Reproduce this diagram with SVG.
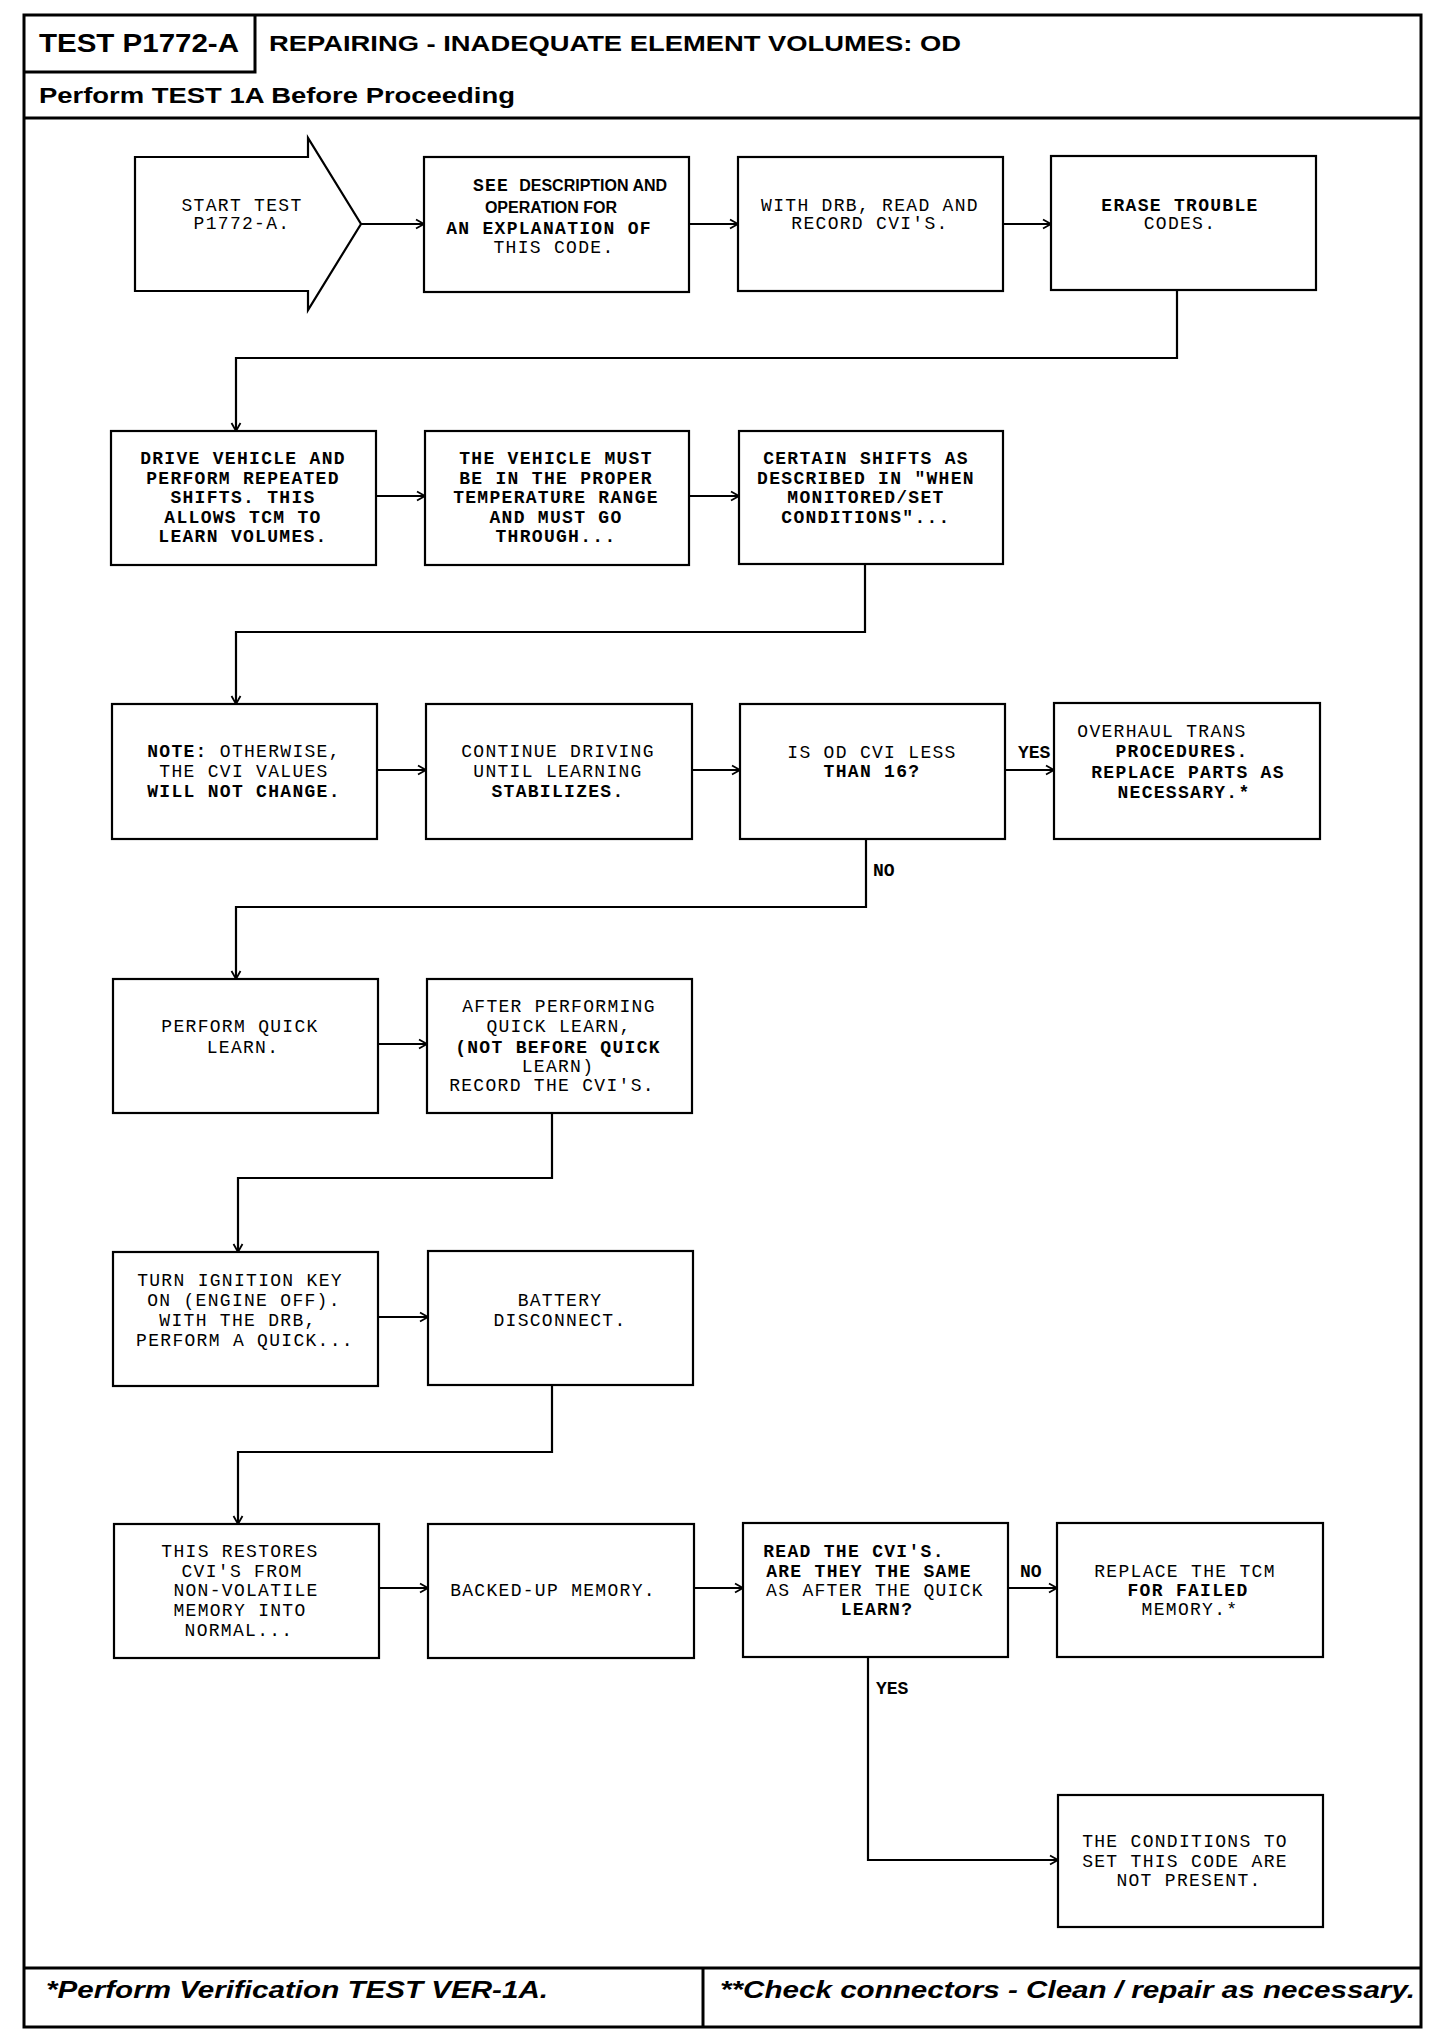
<svg xmlns="http://www.w3.org/2000/svg" width="1456" height="2032" viewBox="0 0 1456 2032">
<style>
.frame{fill:none;stroke:#000;stroke-width:3}
.box{fill:#fff;stroke:#000;stroke-width:2.2}
.t{font-family:"Liberation Mono","Courier New",monospace;font-size:18px;letter-spacing:1.3px;text-anchor:middle;fill:#000}
.b{font-weight:bold}
.lbl{font-family:"Liberation Mono","Courier New",monospace;font-size:18px;font-weight:bold;fill:#000}
.h{font-family:"Liberation Sans",Arial,sans-serif;font-weight:bold;fill:#000}
.hi{font-family:"Liberation Sans",Arial,sans-serif;font-weight:bold;font-style:italic;fill:#000}
.sb{font-family:"Liberation Sans",Arial,sans-serif;font-weight:bold;font-size:16px;letter-spacing:0}
#connectors path{fill:none;stroke:#000;stroke-width:2.2}
</style>
<defs>
<marker id="ah" markerWidth="12" markerHeight="12" refX="10" refY="6" orient="auto" markerUnits="userSpaceOnUse">
<path d="M2,1.5 L10,6 L2,10.5" fill="none" stroke="#000" stroke-width="1.8"/>
</marker>
</defs>
<rect x="0" y="0" width="1456" height="2032" fill="#fff"/>

<g id="frame">
<rect class="frame" x="24" y="15" width="1397" height="2012"/>
<path class="frame" d="M255,15 V72 H24"/>
<line class="frame" x1="24" y1="118" x2="1421" y2="118" stroke-width="4"/>
<line class="frame" x1="24" y1="1968" x2="1421" y2="1968"/>
<line class="frame" x1="703" y1="1968" x2="703" y2="2027"/>
<text class="h" x="39" y="52" font-size="26" textLength="200" lengthAdjust="spacingAndGlyphs">TEST P1772-A</text>
<text class="h" x="269" y="51" font-size="22" textLength="692" lengthAdjust="spacingAndGlyphs">REPAIRING - INADEQUATE ELEMENT VOLUMES: OD</text>
<text class="h" x="39" y="103" font-size="22" textLength="476" lengthAdjust="spacingAndGlyphs">Perform TEST 1A Before Proceeding</text>
<text class="hi" x="46" y="1998" font-size="24" textLength="502" lengthAdjust="spacingAndGlyphs">*Perform Verification TEST VER-1A.</text>
<text class="hi" x="720" y="1998" font-size="24" textLength="695" lengthAdjust="spacingAndGlyphs">**Check connectors - Clean / repair as necessary.</text>
</g>

<g id="connectors">
<path d="M361,224 H424" marker-end="url(#ah)"/>
<path d="M689,224 H738" marker-end="url(#ah)"/>
<path d="M1003,224 H1051" marker-end="url(#ah)"/>
<path d="M1177,290 V358 H236 V431" marker-end="url(#ah)"/>
<path d="M376,496 H425" marker-end="url(#ah)"/>
<path d="M689,496 H739" marker-end="url(#ah)"/>
<path d="M865,564 V632 H236 V704" marker-end="url(#ah)"/>
<path d="M377,770 H426" marker-end="url(#ah)"/>
<path d="M692,770 H740" marker-end="url(#ah)"/>
<path d="M1005,770 H1054" marker-end="url(#ah)"/>
<path d="M866,839 V907 H236 V979" marker-end="url(#ah)"/>
<path d="M378,1044 H427" marker-end="url(#ah)"/>
<path d="M552,1113 V1178 H238 V1252" marker-end="url(#ah)"/>
<path d="M378,1317 H428" marker-end="url(#ah)"/>
<path d="M552,1385 V1452 H238 V1524" marker-end="url(#ah)"/>
<path d="M379,1588 H428" marker-end="url(#ah)"/>
<path d="M694,1588 H743" marker-end="url(#ah)"/>
<path d="M1008,1588 H1057" marker-end="url(#ah)"/>
<path d="M868,1657 V1860 H1058" marker-end="url(#ah)"/>
<text class="lbl" x="1018" y="758">YES</text>
<text class="lbl" x="873" y="876">NO</text>
<text class="lbl" x="1020" y="1577">NO</text>
<text class="lbl" x="876" y="1694">YES</text>
</g>

<g id="n1">
<polygon class="box" points="135,157 308,157 308,138 361,224 308,310 308,291 135,291"/>
<text class="t" x="242" y="211">START TEST</text>
<text class="t" x="242" y="229">P1772-A.</text>
</g>
<g id="n2">
<rect class="box" x="424" y="157" width="265" height="135"/>
<text class="t" x="570" y="191"><tspan class="b">SEE</tspan><tspan class="sb" dx="10">DESCRIPTION AND</tspan></text>
<text class="t sb" x="551" y="213">OPERATION  FOR</text>
<text class="t b" x="549" y="234">AN EXPLANATION OF</text>
<text class="t" x="554" y="253">THIS CODE.</text>
</g>
<g id="n3">
<rect class="box" x="738" y="157" width="265" height="134"/>
<text class="t" x="870" y="211">WITH DRB, READ AND</text>
<text class="t" x="870" y="229">RECORD CVI'S.</text>
</g>
<g id="n4">
<rect class="box" x="1051" y="156" width="265" height="134"/>
<text class="t b" x="1180" y="211">ERASE TROUBLE</text>
<text class="t" x="1180" y="229">CODES.</text>
</g>

<g id="n5">
<rect class="box" x="111" y="431" width="265" height="134"/>
<text class="t b" x="243" y="464">DRIVE VEHICLE AND</text>
<text class="t b" x="243" y="484">PERFORM REPEATED</text>
<text class="t b" x="243" y="503">SHIFTS. THIS</text>
<text class="t b" x="243" y="523">ALLOWS TCM TO</text>
<text class="t b" x="243" y="542">LEARN VOLUMES.</text>
</g>
<g id="n6">
<rect class="box" x="425" y="431" width="264" height="134"/>
<text class="t b" x="556" y="464">THE VEHICLE MUST</text>
<text class="t b" x="556" y="484">BE IN THE PROPER</text>
<text class="t b" x="556" y="503">TEMPERATURE RANGE</text>
<text class="t b" x="556" y="523">AND MUST GO</text>
<text class="t b" x="556" y="542">THROUGH...</text>
</g>
<g id="n7">
<rect class="box" x="739" y="431" width="264" height="133"/>
<text class="t b" x="866" y="464">CERTAIN SHIFTS AS</text>
<text class="t b" x="866" y="484">DESCRIBED IN "WHEN</text>
<text class="t b" x="866" y="503">MONITORED/SET</text>
<text class="t b" x="866" y="523">CONDITIONS"...</text>
</g>

<g id="n8">
<rect class="box" x="112" y="704" width="265" height="135"/>
<text class="t" x="244" y="757"><tspan class="b">NOTE:</tspan> OTHERWISE,</text>
<text class="t" x="244" y="777">THE CVI VALUES</text>
<text class="t b" x="244" y="797">WILL NOT CHANGE.</text>
</g>
<g id="n9">
<rect class="box" x="426" y="704" width="266" height="135"/>
<text class="t" x="558" y="757">CONTINUE DRIVING</text>
<text class="t" x="558" y="777">UNTIL LEARNING</text>
<text class="t b" x="558" y="797">STABILIZES.</text>
</g>
<g id="n10">
<rect class="box" x="740" y="704" width="265" height="135"/>
<text class="t" x="872" y="758">IS OD CVI LESS</text>
<text class="t b" x="872" y="777">THAN 16?</text>
</g>
<g id="n11">
<rect class="box" x="1054" y="703" width="266" height="136"/>
<text class="t" x="1162" y="737">OVERHAUL TRANS</text>
<text class="t b" x="1182" y="757">PROCEDURES.</text>
<text class="t b" x="1188" y="778">REPLACE PARTS AS</text>
<text class="t b" x="1184" y="798">NECESSARY.*</text>
</g>

<g id="n12">
<rect class="box" x="113" y="979" width="265" height="134"/>
<text class="t" x="240" y="1032">PERFORM QUICK</text>
<text class="t" x="243" y="1053">LEARN.</text>
</g>
<g id="n13">
<rect class="box" x="427" y="979" width="265" height="134"/>
<text class="t" x="559" y="1012">AFTER PERFORMING</text>
<text class="t" x="559" y="1032">QUICK LEARN,</text>
<text class="t b" x="558" y="1053">(NOT BEFORE QUICK</text>
<text class="t" x="558" y="1072">LEARN)</text>
<text class="t" x="552" y="1091">RECORD THE CVI'S.</text>
</g>

<g id="n14">
<rect class="box" x="113" y="1252" width="265" height="134"/>
<text class="t" x="240" y="1286">TURN IGNITION KEY</text>
<text class="t" x="244" y="1306">ON (ENGINE OFF).</text>
<text class="t" x="238" y="1326">WITH THE DRB,</text>
<text class="t" x="245" y="1346">PERFORM A QUICK...</text>
</g>
<g id="n15">
<rect class="box" x="428" y="1251" width="265" height="134"/>
<text class="t" x="560" y="1306">BATTERY</text>
<text class="t" x="560" y="1326">DISCONNECT.</text>
</g>

<g id="n16">
<rect class="box" x="114" y="1524" width="265" height="134"/>
<text class="t" x="240" y="1557">THIS RESTORES</text>
<text class="t" x="242" y="1577">CVI'S FROM</text>
<text class="t" x="246" y="1596">NON-VOLATILE</text>
<text class="t" x="240" y="1616">MEMORY INTO</text>
<text class="t" x="239" y="1636">NORMAL...</text>
</g>
<g id="n17">
<rect class="box" x="428" y="1524" width="266" height="134"/>
<text class="t" x="553" y="1596">BACKED-UP MEMORY.</text>
</g>
<g id="n18">
<rect class="box" x="743" y="1523" width="265" height="134"/>
<text class="t b" x="854" y="1557">READ THE CVI'S.</text>
<text class="t b" x="869" y="1577">ARE THEY THE SAME</text>
<text class="t" x="875" y="1596">AS AFTER THE QUICK</text>
<text class="t b" x="877" y="1615">LEARN?</text>
</g>
<g id="n19">
<rect class="box" x="1057" y="1523" width="266" height="134"/>
<text class="t" x="1185" y="1577">REPLACE THE TCM</text>
<text class="t b" x="1188" y="1596">FOR FAILED</text>
<text class="t" x="1190" y="1615">MEMORY.*</text>
</g>
<g id="n20">
<rect class="box" x="1058" y="1795" width="265" height="132"/>
<text class="t" x="1185" y="1847">THE CONDITIONS TO</text>
<text class="t" x="1185" y="1867">SET THIS CODE ARE</text>
<text class="t" x="1189" y="1886">NOT PRESENT.</text>
</g>
</svg>
